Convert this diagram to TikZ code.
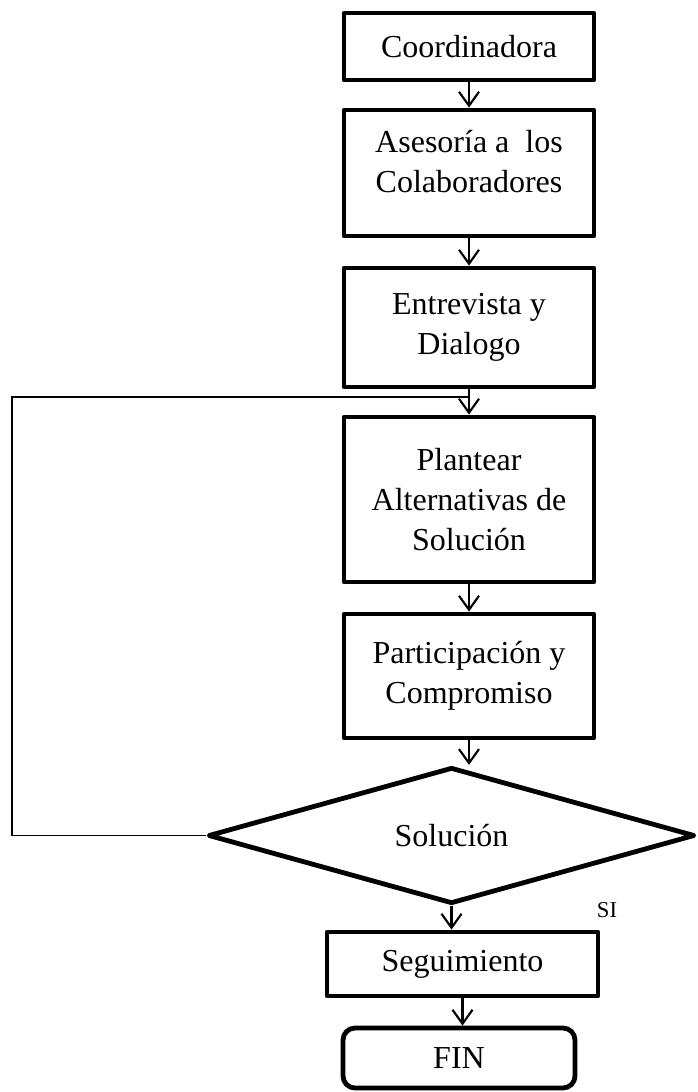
\documentclass[tikz,border=0pt]{standalone}
\usepackage{fontspec}
\setmainfont{Liberation Serif}
\usetikzlibrary{shapes.geometric,arrows.meta}
\begin{document}
\begin{tikzpicture}[x=0.75pt,y=-0.75pt]
	 \tikzstyle{box}=[draw,line width=3.6pt,line join=round,align=center,inner sep=0pt,minimum width=187.5pt,font=\fontsize{24}{30}\selectfont]
	 \tikzstyle{decision}=[box,diamond,minimum width=365pt,minimum height=94pt]
	 \tikzstyle{end box}=[box,rounded corners=9pt]
	 \tikzstyle{arrow}=[draw,line width=1.6pt,-{Straight Barb[length=10.5pt,width=15pt]}]
	 \tikzstyle{loop}=[draw,line width=1.2pt,-]
	 \useasboundingbox (0,0) rectangle (697,1092);
	 \node[box,minimum height=50.25pt] (coord) at (469,46.5) {Coordinadora};
	 \node[box,minimum height=94.5pt] (ases) at (469,173) {Asesoría a~ los\\Colaboradores\\[-12pt]~};
	 \node[box,minimum height=89.25pt] (entre) at (469,327.5) {Entrevista y\\Dialogo};
	 \node[box,minimum height=123.75pt] (plant) at (469,499.5) {Plantear\\Alternativas de\\Solución};
	 \node[box,minimum height=93pt] (part) at (469,676) {Participación y\\Compromiso};
	 \node[decision] (sol) at (451.5,835.5) {Solución};
	 \node[box,minimum width=203.25pt,minimum height=48pt] (seg) at (462.5,964) {Seguimiento};
	 \node[end box,minimum width=174pt,minimum height=45pt] (fin) at (459,1058) {FIN};
	 \node[font=\fontsize{17}{20}\selectfont] (si) at (607,910) {SI};
	 \coordinate (back) at (12,397);
	 \draw[arrow] (coord.south) -- (coord.south |- ases.north);
	 \draw[arrow] (ases.south) -- (ases.south |- entre.north);
	 \draw[arrow] (entre.south) -- (entre.south |- plant.north);
	 \draw[arrow] (plant.south) -- (plant.south |- part.north);
	 \draw[arrow] (part.south) -- (part.south |- sol.north);
	 \draw[arrow] (sol.south) -- (sol.south |- seg.north);
	 \draw[arrow] (seg.south) -- (seg.south |- fin.north);
	 \draw[loop] (sol.west) -| (back) -- (back -| entre.south);
\end{tikzpicture}
\end{document}
